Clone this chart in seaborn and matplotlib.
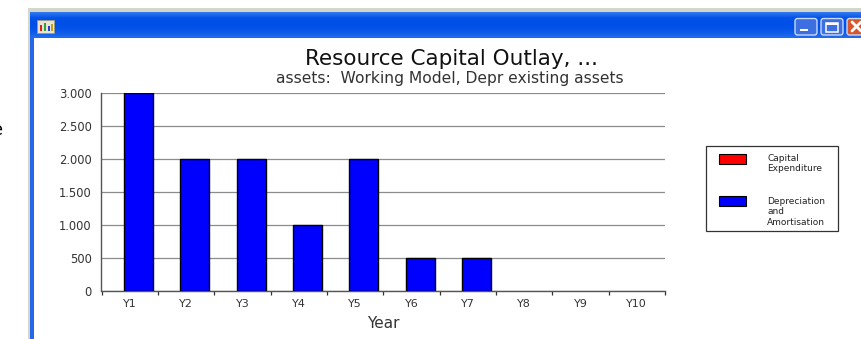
import numpy as np
import pandas as pd
import seaborn as sns
import matplotlib
matplotlib.use("Agg")
import matplotlib.pyplot as plt
from matplotlib.colors import LinearSegmentedColormap
from matplotlib.legend_handler import HandlerPatch
from matplotlib.patches import Patch, Rectangle, FancyBboxPatch
from matplotlib.ticker import FuncFormatter

years = ["Y1", "Y2", "Y3", "Y4", "Y5", "Y6", "Y7", "Y8", "Y9", "Y10"]
capital_expenditure = [0, 0, 0, 0, 0, 0, 0, 0, 0, 0]
depreciation = [3000, 2000, 2000, 1000, 2000, 500, 500, 0, 0, 0]
series_names = ["Capital\nExpenditure", "Depreciation\nand\nAmortisation"]
series_colors = ["#ff0000", "#0000ff"]
y_ticks = [0, 500, 1000, 1500, 2000, 2500, 3000]

W, H = 862, 339
sns.set_theme(style="white")
plt.rcParams["font.family"] = ["DejaVu Sans"]

fig = plt.figure(figsize=(W / 100, H / 100), dpi=100, facecolor="white")

# Window frame behind the chart, laid out in pixel units
chrome = fig.add_axes([0, 0, 1, 1], zorder=0)
chrome.add_patch(Rectangle((28, 8), W - 28, 4, color="#d4d6cc", lw=0))
chrome.add_patch(Rectangle((28, 8), 2.5, H - 8, color="#d4d6cc", lw=0))
gradient = np.array([[0.55], [0.3], [0.05], [0.0], [0.0], [0.0], [0.05], [0.12], [0.2], [0.35]])
bar_cmap = LinearSegmentedColormap.from_list("bar", ["#0050e8", "#5c9cf4"])
chrome.imshow(gradient, cmap=bar_cmap, vmin=0, vmax=1, extent=(30.5, W, 38, 11),
              aspect="auto", interpolation="bilinear")
chrome.set_xlim(0, W)
chrome.set_ylim(H, 0)
chrome.axis("off")
chrome.add_patch(Rectangle((30.5, 37), 4, H - 37, color="#2468e8", lw=0))

# Title bar icon
chrome.add_patch(Rectangle((37.5, 20), 17, 13, facecolor="#e8e4d0", edgecolor="#9a9a80", lw=0.6))
for left, top, color in [(40, 25, "#e02020"), (44, 23, "#30a040"), (48, 26, "#2040d0"), (51, 24, "#c0a020")]:
    chrome.add_patch(Rectangle((left, top), 2.5, 31 - top, color=color, lw=0))

# Caption buttons
for left, width, face in [(795, 22, "#3d6fe0"), (821, 22, "#3d6fe0"), (847, 22, "#d9562c")]:
    chrome.add_patch(FancyBboxPatch((left, 18.5), width, 16.5, boxstyle="round,pad=0,rounding_size=2.5",
                                    facecolor=face, edgecolor="#c8d8f8", lw=1))
chrome.add_patch(Rectangle((800, 28.5), 8, 2.5, color="white", lw=0))
chrome.add_patch(Rectangle((826, 22.5), 12, 9, facecolor="none", edgecolor="white", lw=1.1))
chrome.add_patch(Rectangle((826, 22.5), 12, 2, color="white", lw=0))
chrome.plot([852, 861], [22, 31], color="white", lw=2)
chrome.plot([852, 861], [31, 22], color="white", lw=2)

# Edge of the surrounding page text
chrome.text(3, 130, "e", ha="right", va="center", fontsize=13, color="black")

# Frame of the series key
chrome.add_patch(Rectangle((706, 146), 132, 85, facecolor="white", edgecolor="#333333", lw=0.9))

# Plot area
left_px, right_px, top_px, bottom_px = 101.5, 665, 92.5, 291
ax = fig.add_axes([left_px / W, 1 - bottom_px / H, (right_px - left_px) / W, (bottom_px - top_px) / H],
                  zorder=1, facecolor="none")

table = pd.DataFrame({
    "Year": years * 2,
    "Amount": capital_expenditure + depreciation,
    "Series": [series_names[0]] * len(years) + [series_names[1]] * len(years),
})
sns.barplot(data=table, x="Year", y="Amount", hue="Series", hue_order=series_names,
            palette=series_colors, dodge=False, width=0.51, saturation=1,
            edgecolor="black", linewidth=1.0, legend=False, ax=ax, zorder=3)

# Empty years leave no outline on the baseline
for bar in ax.patches:
    if bar.get_height() == 0:
        bar.set_linewidth(0)

# Bars sit right of the middle of each category band
band_left = -0.656
ax.set_xlim(band_left, band_left + len(years))
ax.set_ylim(0, 3000)
ax.set_xticks([band_left + 0.5 + i for i in range(len(years))])
ax.set_xticklabels(years)
ax.set_xticks([band_left + i for i in range(len(years) + 1)], minor=True)
ax.set_yticks(y_ticks)
ax.yaxis.set_major_formatter(FuncFormatter(lambda v, _: f"{int(v):,}".replace(",", ".")))

ax.tick_params(axis="x", which="major", length=0, pad=6, labelsize=8, labelcolor="#333333")
ax.tick_params(axis="x", which="minor", length=3.2, width=0.9, color="#333333", bottom=True)
ax.tick_params(axis="y", length=0, pad=7, labelsize=8.3, labelcolor="#333333")
ax.grid(axis="y", color="#8c8c8c", lw=0.9, zorder=0)
ax.set_axisbelow(True)
for side in ("top", "right"):
    ax.spines[side].set_visible(False)
for side in ("left", "bottom"):
    ax.spines[side].set_color("#555555")
    ax.spines[side].set_linewidth(1.0)

ax.set_xlabel("Year", fontsize=11, color="#333333", labelpad=5)
ax.set_ylabel("")

fig.text(452 / W, 1 - 59 / H, "Resource Capital Outlay, ...", ha="center", va="center",
         fontsize=15.5, color="#111111", zorder=5)
fig.text(450 / W, 1 - 78 / H, "assets:  Working Model, Depr existing assets", ha="center", va="center",
         fontsize=11.2, color="#333333", zorder=5)


class FirstLineSwatch(HandlerPatch):
    """Key swatch lined up with the first line of a multi-line label."""

    def __init__(self, extra_lines):
        super().__init__()
        self.extra_lines = extra_lines

    def create_artists(self, legend, orig_handle, xdescent, ydescent, width, height,
                       fontsize, trans):
        artists = super().create_artists(legend, orig_handle, xdescent, ydescent, width,
                                         height, fontsize, trans)
        artists[0].set_y(artists[0].get_y() + self.extra_lines * fontsize * 1.2 / 2)
        return artists


# Series key
handles = [Patch(facecolor=c, edgecolor="black", lw=0.8) for c in series_colors]
legend = fig.legend(handles, series_names, loc="upper left",
                    bbox_to_anchor=(719 / W, 1 - 154 / H), borderaxespad=0, borderpad=0,
                    fontsize=6.5, frameon=False, labelcolor="#222222",
                    handlelength=3.0, handleheight=1.315, handletextpad=2.33, labelspacing=2.6,
                    handler_map={handles[0]: FirstLineSwatch(1), handles[1]: FirstLineSwatch(2)})
legend.set_zorder(5)

fig.savefig("out.png", dpi=100, facecolor="white")
